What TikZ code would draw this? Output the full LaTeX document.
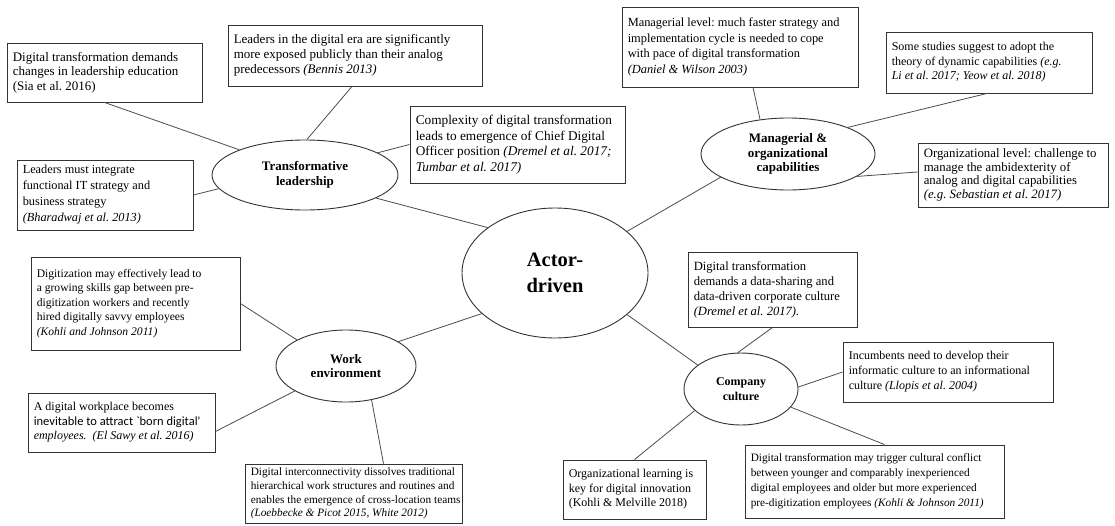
\documentclass[tikz,border=0pt]{standalone}
\usepackage{fontspec}
\setmainfont{Liberation Serif}
\newfontfamily\calib{Carlito}
\usetikzlibrary{shapes.geometric}
\frenchspacing
\tikzset{
  boxframe/.style={draw=black!80, line width=0.9pt, rectangle, inner sep=0pt},
  boxtext/.style={align=left, inner sep=0pt, anchor=west},
  oval/.style={draw=black!80, line width=0.9pt, ellipse, inner sep=0pt,
    align=center, font=\fontsize{13}{14.5}\selectfont\bfseries},
  link/.style={draw=black!70, line width=0.8pt}}
% #1 name, #2 x1, #3 y1, #4 x2, #5 y2, #6 font size, #7 leading, #8 text
\newcommand{\mybox}[8]{%
  \node[boxframe, minimum width={#4-#2}, minimum height={#5-#3}] (#1)
    at ({(#2+#4)/2},{(#3+#5)/2}) {};
  \node[boxtext, font=\fontsize{#6}{#7}\selectfont] at ([xshift=6pt]#1.west) {#8};}
\begin{document}
\begin{tikzpicture}[x=1pt,y=-1pt]
\fill[white] (0,0) rectangle (1115,525);
\useasboundingbox (0,0) rectangle (1115,525);

% ellipses
\node[oval, minimum width=186pt, minimum height=70pt] (TL) at (305,175) {Transformative\\leadership};
\node[oval, minimum width=174pt, minimum height=72pt] (MO) at (788,154) {Managerial \&\\organizational\\capabilities};
\node[oval, minimum width=186pt, minimum height=130pt, font=\fontsize{20.5}{26}\selectfont\bfseries] (AD) at (555,273) {Actor-\\driven};
\node[oval, minimum width=140pt, minimum height=72pt] (WE) at (346,366) {Work\\environment};
\node[oval, minimum width=114pt, minimum height=72pt, font=\fontsize{12}{14.5}\selectfont\bfseries] (CC) at (741,389) {Company\\culture};

% boxes
\mybox{A}{7}{43}{202}{102}{13}{14.5}
  {Digital transformation demands\\changes in leadership education\\(Sia et al. 2016)}
\mybox{B}{228}{25}{482}{86}{13}{15}
  {Leaders in the digital era are significantly\\more exposed publicly than their analog\\predecessors \textit{(Bennis 2013)}}
\mybox{C}{410}{106}{625}{183}{13.3}{15.5}
  {Complexity of digital transformation\\leads to emergence of Chief Digital\\Officer position \textit{(Dremel et al. 2017;}\\\textit{Tumbar et al. 2017)}}
\mybox{D}{17}{160}{193}{230}{12.3}{16}
  {Leaders must integrate\\functional IT strategy and\\business strategy\\\textit{(Bharadwaj et al. 2013)}}
\mybox{E}{622}{7}{858}{87}{12.4}{15.5}
  {Managerial level: much faster strategy and\\implementation cycle is needed to cope\\with pace of digital transformation\\\textit{(Daniel \& Wilson 2003)}}
\mybox{F}{886}{32}{1092}{93}{12}{14.5}
  {Some studies suggest to adopt the\\theory of dynamic capabilities \textit{(e.g.}\\\textit{Li et al. 2017; Yeow et al. 2018)}}
\mybox{G}{918}{143}{1108}{207}{12.8}{13.8}
  {Organizational level: challenge to\\manage the ambidexterity of\\analog and digital capabilities\\\textit{(e.g. Sebastian et al. 2017)}}
\mybox{H}{31}{257}{240}{350}{11.6}{14.5}
  {Digitization may effectively lead to\\a growing skills gap between pre-\\digitization workers and recently\\hired digitally savvy employees\\\textit{(Kohli and Johnson 2011)}}
\mybox{I}{28}{393}{215}{452}{12}{14.5}
  {A digital workplace becomes\\{\calib\fontsize{12.5}{14.5}\selectfont inevitable to attract `born digital'}\\\textit{employees.\ \ (El Sawy et al. 2016)}}
\mybox{J}{245}{464}{462}{523}{11.3}{13.6}
  {Digital interconnectivity dissolves traditional\\hierarchical work structures and routines and\\enables the emergence of cross-location teams\\\textit{(Loebbecke \& Picot 2015, White 2012)}}
\mybox{K}{688}{252}{857}{327}{12.6}{15}
  {Digital transformation\\demands a data-sharing and\\data-driven corporate culture\\\textit{(Dremel et al. 2017).}}
\mybox{L}{843}{342}{1053}{402}{12}{15}
  {Incumbents need to develop their\\informatic culture to an informational\\culture \textit{(Llopis et al. 2004)}}
\mybox{M}{563}{460}{706}{519}{12}{14.5}
  {Organizational learning is\\key for digital innovation\\(Kohli \& Melville 2018)}
\mybox{N}{745}{445}{1004}{518}{11.3}{15}
  {Digital transformation may trigger cultural conflict\\between younger and comparably inexperienced\\digital employees and older but more experienced\\pre-digitization employees \textit{(Kohli \& Johnson 2011)}}

% connectors
\draw[link] (A.south) -- (TL.159);
\draw[link] ([xshift=-3pt]B.south) -- (TL.87);
\draw[link] (C.west) -- (TL.17);
\draw[link] (D.east) -- (TL.189);
\draw[link] (TL.-18) -- (AD.146);
\draw[link] (AD.30) -- (MO.199);
\draw[link] ([xshift=13pt]E.south) -- (MO.129);
\draw[link] ([xshift=-2pt]F.south) -- (MO.24);
\draw[link] (MO.-18) -- ([yshift=3pt]G.west);
\draw[link] (AD.-30) -- (CC.151);
\draw[link] (K.south) -- (CC.95);
\draw[link] (CC.2) -- (L.west);
\draw[link] (CC.-20) -- ([xshift=10pt]N.north);
\draw[link] (CC.205) -- (M.north);
\draw[link] (AD.209) -- (WE.25);
\draw[link] (H.east) -- (WE.152);
\draw[link] (WE.206) -- ([yshift=-9pt]I.east);
\draw[link] (WE.-53) -- ([xshift=30pt]J.north);
\end{tikzpicture}
\end{document}
